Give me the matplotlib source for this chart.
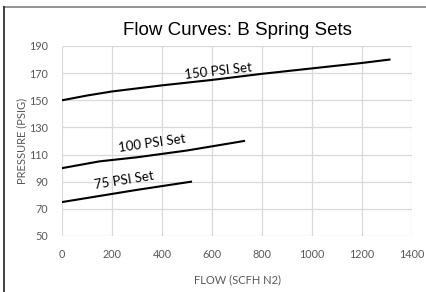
import matplotlib.pyplot as plt
from matplotlib.lines import Line2D

# flow curves (flow in SCFH N2, pressure in PSIG)
flow_150 = [0, 100, 200, 400, 600, 800, 1000, 1200, 1310]
psi_150 = [150, 153.5, 156.5, 161, 165, 169.5, 173.5, 177.5, 180]

flow_100 = [0, 150, 300, 500, 728]
psi_100 = [100, 105, 108, 113, 120]

flow_75 = [0, 150, 300, 516]
psi_75 = [75, 79.5, 84, 90]

x_ticks = [0, 200, 400, 600, 800, 1000, 1200, 1400]
y_ticks = [50, 70, 90, 110, 130, 150, 170, 190]

tick_font = "Lato"
grey = "#595959"

fig = plt.figure(figsize=(4.26, 2.92), dpi=100)
ax = fig.add_axes([62 / 426, 1 - 236 / 292, 350 / 426, 190 / 292])

ax.plot(flow_150, psi_150, color="black", lw=1.5)
ax.plot(flow_100, psi_100, color="black", lw=1.5)
ax.plot(flow_75, psi_75, color="black", lw=1.5)

ax.set_xlim(0, 1400)
ax.set_ylim(50, 190)
ax.set_xticks(x_ticks)
ax.set_yticks(y_ticks)
ax.grid(True, color="#d9d9d9", lw=0.9)
ax.set_axisbelow(True)
for s in ax.spines.values():
    s.set_visible(False)
ax.tick_params(axis="x", length=0, labelsize=7.8, labelcolor=grey, pad=9)
ax.tick_params(axis="y", length=0, labelsize=7.8, labelcolor=grey, pad=10)
for lab in ax.get_xticklabels() + ax.get_yticklabels():
    lab.set_family(tick_font)

ax.set_xlabel("FLOW (SCFH N2)", fontsize=8, color=grey, family=tick_font, labelpad=11)
ax.set_ylabel("PRESSURE (PSIG)", fontsize=8, color=grey, family=tick_font, labelpad=1)
ax.set_title("Flow Curves: B Spring Sets", fontsize=13.5, family="Liberation Sans", pad=8)

# curve labels
ax.text(625, 171.5, "150 PSI Set", fontsize=9.5, family=tick_font, rotation=6.5,
        ha="center", va="center")
ax.text(360, 118.5, "100 PSI Set", fontsize=9.5, family=tick_font, rotation=8,
        ha="center", va="center")
ax.text(250, 91, "75 PSI Set", fontsize=9.5, family=tick_font, rotation=9,
        ha="center", va="center")

# partial frame of the original screenshot
fig.add_artist(Line2D([3.5 / 426, 1], [1 - 6.5 / 292, 1 - 6.5 / 292], color="#808080", lw=1.2))
fig.add_artist(Line2D([3.5 / 426, 3.5 / 426], [0, 1 - 6.5 / 292], color="#222222", lw=1.2))

fig.savefig("out.png", dpi=100)
